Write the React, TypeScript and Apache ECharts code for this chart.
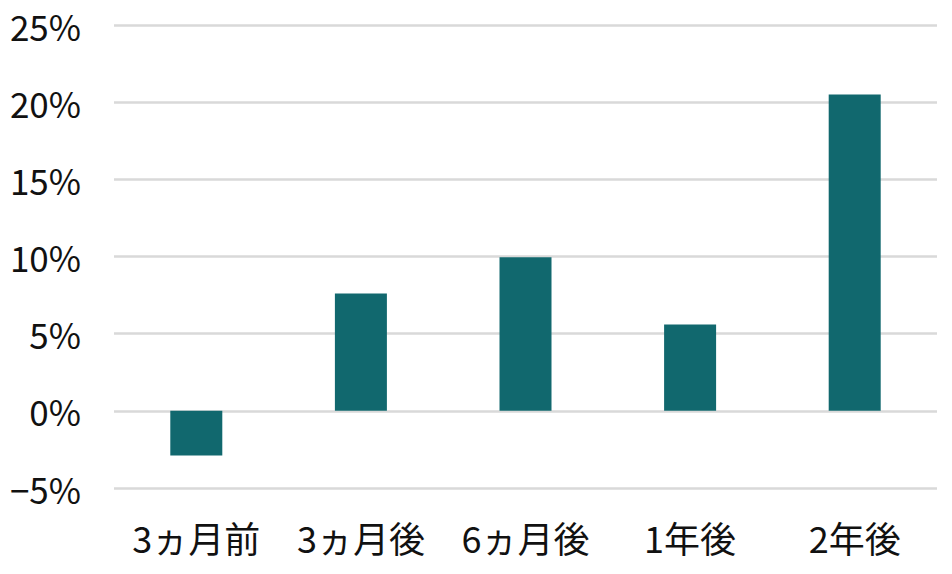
import React, { useEffect, useRef } from "react";
import * as echarts from "echarts";

const categories = ["3ヵ月前", "3ヵ月後", "6ヵ月後", "1年後", "2年後"];
const values = [-2.9, 7.6, 9.95, 5.6, 20.5];
const yTicks = { min: -5, max: 25, interval: 5 };

export default function App() {
  const ref = useRef<HTMLDivElement>(null);
  useEffect(() => {
    if (!ref.current) return;
    const chart = echarts.init(ref.current, undefined, { renderer: "svg" });
    chart.setOption({
      animation: false,
      backgroundColor: "#ffffff",
      grid: { left: 114, right: 15, top: 25, bottom: 86, containLabel: false },
      xAxis: {
        type: "category",
        data: categories,
        axisLine: { show: false },
        axisTick: { show: false },
        axisLabel: {
          color: "#111111",
          fontSize: 36,
          fontFamily: "Noto Sans CJK JP",
          margin: 31,
          interval: 0,
        },
      },
      yAxis: {
        type: "value",
        min: yTicks.min,
        max: yTicks.max,
        interval: yTicks.interval,
        axisLine: { show: false },
        axisTick: { show: false },
        splitLine: { lineStyle: { color: "#d9d9d9", width: 2.5 } },
        axisLabel: {
          color: "#111111",
          fontSize: 35,
          fontFamily: "Noto Sans CJK JP",
          margin: 33,
          formatter: (v: number) => (v < 0 ? "−" + Math.abs(v) + "%" : v + "%"),
        },
      },
      series: [
        {
          type: "bar",
          data: values,
          barWidth: 52,
          itemStyle: { color: "#11686e" },
        },
      ],
    });
    return () => chart.dispose();
  }, []);
  return <div ref={ref} style={{ width: 952, height: 574, margin: -8 }} />;
}
